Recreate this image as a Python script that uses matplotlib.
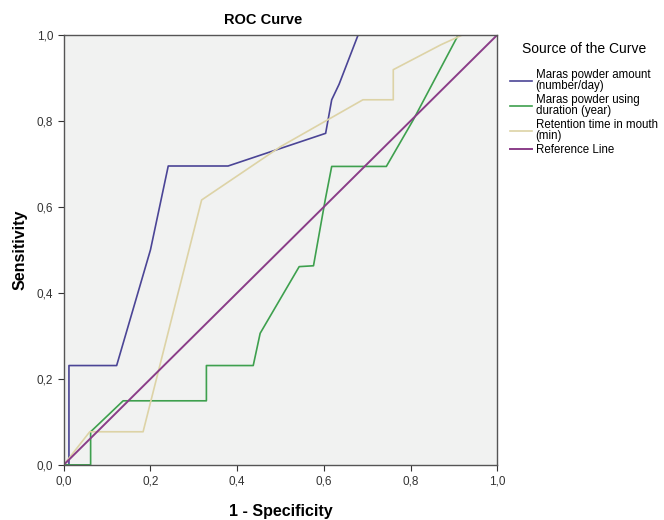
import matplotlib.pyplot as plt

plt.rcParams['font.family'] = ['Liberation Sans', 'DejaVu Sans']

# ROC curve points (1 - specificity, sensitivity)
amount_x = [0.0, 0.012, 0.012, 0.122, 0.20, 0.241, 0.379, 0.604, 0.618, 0.635, 0.679, 1.0]
amount_y = [0.0, 0.0, 0.231, 0.231, 0.50, 0.695, 0.695, 0.771, 0.849, 0.885, 1.0, 1.0]

duration_x = [0.0, 0.062, 0.062, 0.137, 0.329, 0.329, 0.437, 0.453, 0.543, 0.576, 0.603, 0.618, 0.744, 0.806, 0.91, 1.0]
duration_y = [0.0, 0.0, 0.077, 0.149, 0.149, 0.231, 0.231, 0.306, 0.461, 0.463, 0.616, 0.694, 0.694, 0.802, 1.0, 1.0]

retention_x = [0.0, 0.06, 0.183, 0.318, 0.50, 0.69, 0.76, 0.76, 0.87, 0.92, 1.0]
retention_y = [0.0, 0.077, 0.077, 0.616, 0.74, 0.849, 0.849, 0.919, 0.977, 1.0, 1.0]

ref = [0.0, 1.0]

labels = ['Maras powder amount\n(number/day)',
          'Maras powder using\nduration (year)',
          'Retention time in mouth\n(min)',
          'Reference Line']

ticks = [0.0, 0.2, 0.4, 0.6, 0.8, 1.0]
tick_labels = ['0,0', '0,2', '0,4', '0,6', '0,8', '1,0']

fig = plt.figure(figsize=(6.64, 5.2), dpi=100)
ax = fig.add_axes([0.096, 0.106, 0.653, 0.827])
ax.set_facecolor('#f1f2f1')

l1, = ax.plot(amount_x, amount_y, color='#4b4596', lw=1.2)
l2, = ax.plot(duration_x, duration_y, color='#3ea04e', lw=1.2)
l3, = ax.plot(retention_x, retention_y, color='#ddd3a6', lw=1.2)
l4, = ax.plot(ref, ref, color='#8a3d88', lw=1.4)

ax.set_xlim(0, 1)
ax.set_ylim(0, 1)
ax.set_xticks(ticks)
ax.set_xticklabels(tick_labels)
ax.set_yticks(ticks)
ax.set_yticklabels(tick_labels)
ax.tick_params(labelsize=8.5, length=4, color='#333333', labelcolor='#333333')
for s in ax.spines.values():
    s.set_color('#555555')
    s.set_linewidth(1.0)

ax.set_xlabel('1 - Specificity', fontsize=11.5, fontweight='bold', labelpad=12)
ax.set_ylabel('Sensitivity', fontsize=11.5, fontweight='bold', labelpad=7)
fig.text(263 / 664, 1 - 20 / 520, 'ROC Curve', fontsize=10.5, fontweight='bold',
         ha='center', va='center')

leg = fig.legend([l1, l2, l3, l4], labels, loc='upper left',
                 bbox_to_anchor=(508 / 664, 1 - 40 / 520), frameon=False,
                 fontsize=8.3, title='Source of the Curve', title_fontsize=10,
                 handlelength=1.9, handletextpad=0.3, labelspacing=0.12,
                 borderpad=0.2, borderaxespad=0)
leg._legend_box.sep = 9
for t in leg.get_texts():
    t.set_linespacing(0.95)

fig.savefig('out.png', dpi=100)
